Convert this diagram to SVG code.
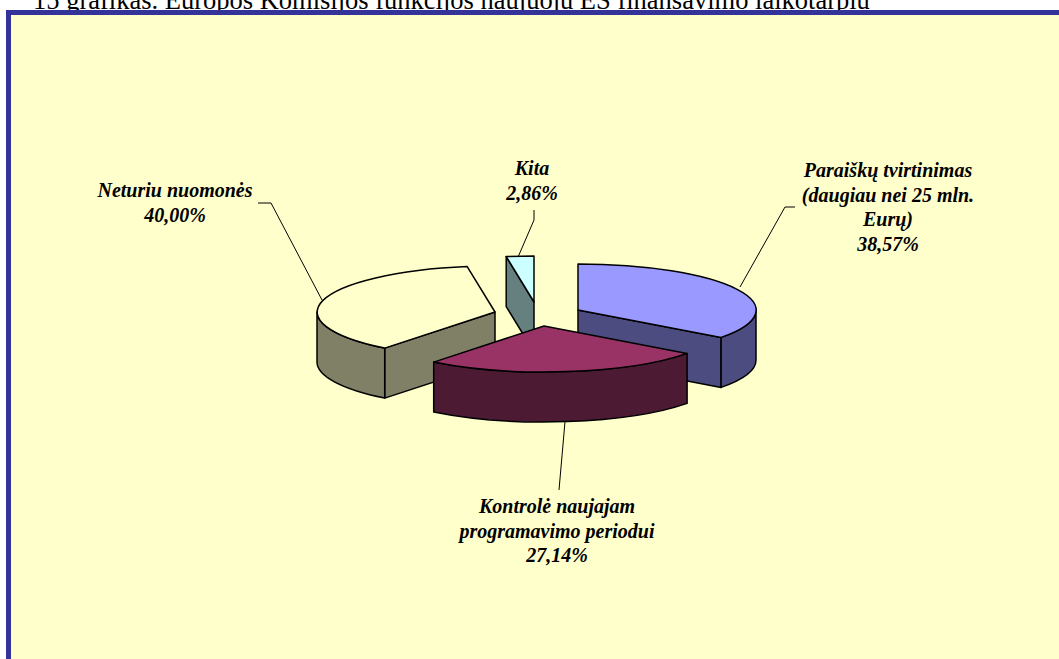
<svg xmlns="http://www.w3.org/2000/svg" width="1059" height="659" viewBox="0 0 1059 659">
  <style>
    .title { font-family: "Liberation Serif", "Times New Roman", serif; font-size: 26.5px; fill: #000; }
    .lbl { font-family: "Liberation Serif", "Times New Roman", serif; font-size: 20px; font-weight: bold; font-style: italic; fill: #000; text-anchor: middle; }
    .edge { stroke: #000; stroke-width: 1.5; stroke-linejoin: round; }
    .lead { stroke: #000; stroke-width: 1; fill: none; }
  </style>
  <rect x="0" y="0" width="1059" height="659" fill="#ffffff"/>
  <text class="title" x="33" y="9">15 grafikas. Europos Komisijos funkcijos naujuoju ES finansavimo laikotarpiu</text>
  <!-- chart area with its border -->
  <rect x="8.5" y="12.5" width="1060" height="660" fill="#FFFFCC" stroke="#333399" stroke-width="5"/>

  <g id="connectors">
    <polyline class="lead" points="258,203 271,203 322,300"/>
    <polyline class="lead" points="534,210 534,220 518.5,256"/>
    <polyline class="lead" points="795,207 785,207 740,287"/>
    <polyline class="lead" points="565,421.7 559,490"/>
  </g>

  <!-- Kita slice -->
  <g id="slice-kita">
    <path class="edge" fill="#668080" d="M534,302 L506.2,256.6 L506.2,306.6 L534,352 Z"/>
    <path class="edge" fill="#CCFFFF" d="M534,302 L506.2,256.6 A178,46 0 0,1 534,256 Z"/>
  </g>

  <!-- Paraiškų tvirtinimas slice -->
  <g id="slice-paraisku">
    <path class="edge" fill="#4C4C80" d="M578,310 L721.1,337.4 L721.1,387.4 L578,360 Z"/>
    <path class="edge" fill="#4C4C80" d="M756,310 A178,46 0 0,1 721.1,337.4 L721.1,387.4 A178,46 0 0,0 756,360 Z"/>
    <path class="edge" fill="#9999FF" d="M578,310 L578,264 A178,46 0 0,1 721.1,337.4 Z"/>
  </g>

  <!-- Neturiu nuomonės slice -->
  <g id="slice-neturiu">
    <path class="edge" fill="#808066" d="M495,312 L384.7,348.1 L384.7,398.1 L495,362 Z"/>
    <path class="edge" fill="#808066" d="M384.7,348.1 A178,46 0 0,1 317,312 L317,362 A178,46 0 0,0 384.7,398.1 Z"/>
    <path class="edge" fill="#FFFFCC" d="M495,312 L384.7,348.1 A178,46 0 0,1 467.2,266.6 Z"/>
  </g>

  <!-- Kontrolė slice -->
  <g id="slice-kontrole">
    <path class="edge" fill="#4C1A33" d="M687.1,353.4 A178,46 0 0,1 433.7,362.1 L433.7,412.1 A178,46 0 0,0 687.1,403.4 Z"/>
    <path class="edge" fill="#993366" d="M544,326 L687.1,353.4 A178,46 0 0,1 433.7,362.1 Z"/>
  </g>

  <g id="label-neturiu">
    <text class="lbl" x="175" y="197">Neturiu nuomonės</text>
    <text class="lbl" x="175" y="222">40,00%</text>
  </g>
  <g id="label-kita">
    <text class="lbl" x="532" y="175">Kita</text>
    <text class="lbl" x="532" y="200">2,86%</text>
  </g>
  <g id="label-paraisku">
    <text class="lbl" x="888" y="177">Paraiškų tvirtinimas</text>
    <text class="lbl" x="888" y="201.5">(daugiau nei 25 mln.</text>
    <text class="lbl" x="888" y="226">Eurų)</text>
    <text class="lbl" x="888" y="250.5">38,57%</text>
  </g>
  <g id="label-kontrole">
    <text class="lbl" x="557" y="513">Kontrolė naujajam</text>
    <text class="lbl" x="557" y="537.5">programavimo periodui</text>
    <text class="lbl" x="557" y="562">27,14%</text>
  </g>
</svg>
